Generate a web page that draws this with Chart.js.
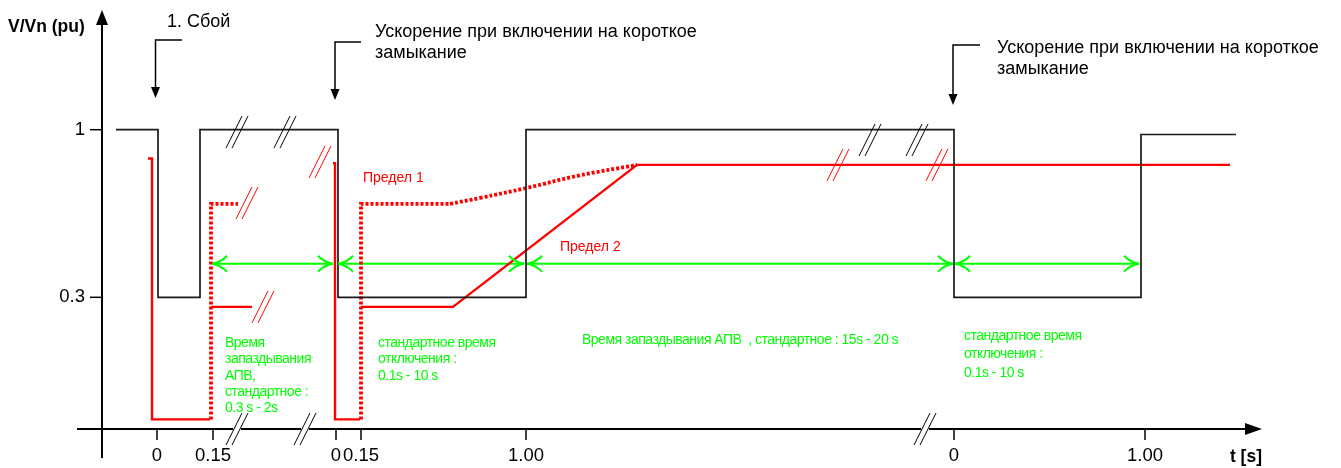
<!DOCTYPE html>
<html>
<head>
<meta charset="utf-8">
<script src="https://cdn.jsdelivr.net/npm/chart.js@4/dist/chart.umd.min.js"></script>
<style>
  html, body { margin: 0; padding: 0; background: #fff; }
  #wrap { width: 1341px; height: 468px; }
</style>
</head>
<body>
<div id="wrap"><canvas id="myChart" width="1341" height="468"></canvas></div>
<script>
// schematic x units (broken time axis), y in pu
const xTickPos = [5.5, 11.1, 23.4, 25.9, 42.4, 85.2, 104.3];
const xTickLabels = ['0', '0.15', '0', '0.15', '1.00', '0', '1.00'];
const yTickPos = [1, 0.3];
const yTickLabels = ['1', '0.3'];

const voltage = [[1.4, 1], [5.6, 1], [5.6, 0.3], [9.8, 0.3], [9.8, 1], [23.6, 1], [23.6, 0.3],
  [42.4, 0.3], [42.4, 1], [85.2, 1], [85.2, 0.3], [103.9, 0.3], [103.9, 0.98], [113.4, 0.98]];

// Предел 2 (solid)
const limit2a = [[4.6, 0.88], [5.0, 0.88], [5.0, -0.21], [10.8, -0.21]];
const limit2b = [[10.9, 0.26], [15.0, 0.26]];
const limit2c = [[23.1, 0.86], [23.3, 0.86], [23.3, -0.21], [25.8, -0.21]];
const limit2d = [[25.9, 0.26], [35.1, 0.26], [53.5, 0.853], [112.8, 0.853]];
// Предел 1 (dotted)
const limit1a = [[10.9, -0.21], [10.9, 0.69], [13.6, 0.69]];
const limit1b = [[25.9, -0.21], [25.9, 0.69], [34.8, 0.69]];
const limit1c = [[34.8, 0.69], [37.8, 0.715], [42.5, 0.757], [47.5, 0.807], [53.5, 0.853]];

const greenArrows = [[11.0, 23.1], [23.6, 42.2], [42.5, 85.1], [85.3, 103.7]];
const greenArrowY = 0.44;

const breaksBlack = [[13.5, 0.99], [18.3, 0.99], [76.8, 0.957], [81.5, 0.957]];
const breaksRed = [[14.5, 0.694], [16.1, 0.26], [21.8, 0.865], [73.6, 0.853], [83.5, 0.853]];
const breaksAxis = [[13.5, -0.25], [20.3, -0.25], [82.3, -0.25]];

// leader arrows: [xStart, xCorner, yTop, yTip]
const leaders = [[8.0, 5.35, 1.375, 1.132], [25.9, 23.3, 1.366, 1.124], [87.8, 85.1, 1.354, 1.103]];

const blackTexts = [
  { x: 6.5, y: 1.45, lines: ['1. Сбой'] },
  { x: 27.3, y: 1.408, lines: ['Ускорение при включении на короткое', 'замыкание'] },
  { x: 89.5, y: 1.341, lines: ['Ускорение при включении на короткое', 'замыкание'] },
];
const redTexts = [
  { x: 26.1, y: 0.798, lines: ['Предел 1'] },
  { x: 45.8, y: 0.51, lines: ['Предел 2'] },
];
const greenTexts = [
  { x: 12.3, y: 0.109, lh: 16.3, lines: ['Время', 'запаздывания', 'АПВ,', 'стандартное :', '0.3 s - 2s'] },
  { x: 27.6, y: 0.109, lh: 16.5, lines: ['стандартное время', 'отключения :', '0.1s - 10 s'] },
  { x: 48.0, y: 0.122, lh: 16.5, lines: ['Время запаздывания АПВ  , стандартное : 15s - 20 s'] },
  { x: 86.2, y: 0.138, lh: 18.5, lines: ['стандартное время', 'отключения :', '0.1s - 10 s'] },
];

const FONT = '"Liberation Sans", Arial, sans-serif';
const toXY = arr => arr.map(p => ({ x: p[0], y: p[1] }));

function line(data, color, width, extra) {
  return Object.assign({
    data: toXY(data),
    borderColor: color,
    borderWidth: width,
    pointRadius: 0,
    tension: 0,
    fill: false,
    clip: false,
    borderJoinStyle: 'miter',
    borderCapStyle: 'butt',
  }, extra || {});
}

const RED = '#ff0000';
const GREEN = '#00ff00';
const dotted = { borderDash: [3, 2] };

const datasets = [
  line(voltage, '#1a1a1a', 1.7),
  line(limit2a, RED, 2.4),
  line(limit2b, RED, 2.4),
  line(limit2c, RED, 2.4),
  line(limit2d, RED, 2.4),
  line(limit1a, RED, 3.8, dotted),
  line(limit1b, RED, 3.8, dotted),
  line(limit1c, RED, 3.8, Object.assign({ tension: 0.4 }, dotted)),
];
greenArrows.forEach(a => {
  datasets.push(line([[a[0], greenArrowY], [a[1], greenArrowY]], GREEN, 2));
});

const drawing = {
  id: 'drawing',
  beforeDatasetsDraw(chart) {
    const c = chart.ctx, X = chart.scales.x, Y = chart.scales.y;
    const x0 = X.getPixelForValue(0), y0 = Y.getPixelForValue(-0.25);
    c.save();
    c.strokeStyle = '#000';
    c.fillStyle = '#000';
    c.lineWidth = 2;
    // y axis
    c.beginPath();
    c.moveTo(x0, Y.getPixelForValue(1.47));
    c.lineTo(x0, Y.getPixelForValue(-0.371));
    c.stroke();
    c.beginPath();
    c.moveTo(x0, Y.getPixelForValue(1.5));
    c.lineTo(x0 - 6, Y.getPixelForValue(1.5) + 15);
    c.lineTo(x0 + 6, Y.getPixelForValue(1.5) + 15);
    c.closePath();
    c.fill();
    // x axis
    const xEnd = X.getPixelForValue(116);
    c.beginPath();
    c.moveTo(X.getPixelForValue(-2.5), y0);
    c.lineTo(xEnd - 12, y0);
    c.stroke();
    c.beginPath();
    c.moveTo(xEnd, y0);
    c.lineTo(xEnd - 17, y0 - 6);
    c.lineTo(xEnd - 17, y0 + 6);
    c.closePath();
    c.fill();
    // ticks
    c.lineWidth = 1.5;
    c.font = '18.5px ' + FONT;
    c.textBaseline = 'middle';
    c.textAlign = 'center';
    xTickPos.forEach((v, i) => {
      const p = X.getPixelForValue(v);
      c.beginPath();
      c.moveTo(p, y0);
      c.lineTo(p, y0 + 11);
      c.stroke();
      c.fillText(xTickLabels[i], p, y0 + 27);
    });
    c.textAlign = 'right';
    yTickPos.forEach((v, i) => {
      const p = Y.getPixelForValue(v);
      c.beginPath();
      c.moveTo(x0 - 12, p);
      c.lineTo(x0, p);
      c.stroke();
      c.fillText(yTickLabels[i], x0 - 17, p);
    });
    // axis titles
    c.font = 'bold 17.5px ' + FONT;
    c.textAlign = 'left';
    c.fillText('V/Vn (pu)', 8, Y.getPixelForValue(1.43));
    c.textAlign = 'right';
    c.fillText('t [s]', X.getPixelForValue(116), y0 + 28);
    c.restore();
  },
  afterDatasetsDraw(chart) {
    const c = chart.ctx, X = chart.scales.x, Y = chart.scales.y;
    c.save();
    // break marks
    function brk(list, color, w) {
      c.strokeStyle = color;
      c.lineWidth = w;
      list.forEach(b => {
        const px = X.getPixelForValue(b[0]), py = Y.getPixelForValue(b[1]);
        [-3, 3].forEach(o => {
          c.beginPath();
          c.moveTo(px + o - 8, py + 16);
          c.lineTo(px + o + 8, py - 16);
          c.stroke();
        });
      });
    }
    // clear gap on x axis under axis breaks
    breaksAxis.forEach(b => {
      const px = X.getPixelForValue(b[0]), py = Y.getPixelForValue(b[1]);
      c.fillStyle = '#fff';
      c.fillRect(px - 4, py - 2, 8, 4);
    });
    brk(breaksBlack, '#000', 1);
    brk(breaksRed, RED, 1);
    brk(breaksAxis, '#000', 1);

    // green arrow heads
    c.strokeStyle = GREEN;
    c.lineWidth = 2;
    const gy = Y.getPixelForValue(greenArrowY);
    function head(tipX, dir) {
      [-1, 1].forEach(s => {
        c.beginPath();
        c.moveTo(tipX - dir * 15, gy + s * 8);
        c.quadraticCurveTo(tipX - dir * 9, gy + s * 1.5, tipX, gy);
        c.stroke();
      });
    }
    greenArrows.forEach(a => {
      head(X.getPixelForValue(a[0]), -1);
      head(X.getPixelForValue(a[1]), 1);
    });

    // leader arrows
    c.strokeStyle = '#000';
    c.fillStyle = '#000';
    c.lineWidth = 1.5;
    leaders.forEach(l => {
      const xs = X.getPixelForValue(l[0]), xc = X.getPixelForValue(l[1]);
      const yt = Y.getPixelForValue(l[2]), yp = Y.getPixelForValue(l[3]);
      c.beginPath();
      c.moveTo(xs, yt);
      c.lineTo(xc, yt);
      c.lineTo(xc, yp - 9);
      c.stroke();
      c.beginPath();
      c.moveTo(xc, yp);
      c.lineTo(xc - 4.5, yp - 11);
      c.lineTo(xc + 4.5, yp - 11);
      c.closePath();
      c.fill();
    });

    // texts
    c.textAlign = 'left';
    c.textBaseline = 'middle';
    c.fillStyle = '#000';
    c.font = '18px ' + FONT;
    blackTexts.forEach(t => {
      t.lines.forEach((s, i) => c.fillText(s, X.getPixelForValue(t.x), Y.getPixelForValue(t.y) + i * 21));
    });
    c.fillStyle = RED;
    c.font = '14px ' + FONT;
    redTexts.forEach(t => {
      t.lines.forEach((s, i) => c.fillText(s, X.getPixelForValue(t.x), Y.getPixelForValue(t.y)));
    });
    c.fillStyle = GREEN;
    c.font = '14px ' + FONT;
    c.letterSpacing = '-0.5px';
    greenTexts.forEach(t => {
      t.lines.forEach((s, i) => c.fillText(s, X.getPixelForValue(t.x), Y.getPixelForValue(t.y) + i * t.lh));
    });
    c.restore();
  },
};

const ctx = document.querySelector('#myChart').getContext('2d');
const myChart = new Chart(ctx, {
  type: 'line',
  data: { datasets },
  options: {
    responsive: false,
    animation: false,
    events: [],
    layout: { padding: { left: 102, right: 79, top: 10, bottom: 39 } },
    plugins: { legend: { display: false }, tooltip: { enabled: false } },
    scales: {
      x: { type: 'linear', min: 0, max: 116, display: false },
      y: { type: 'linear', min: -0.25, max: 1.5, display: false },
    },
  },
  plugins: [drawing],
});
</script>
</body>
</html>
